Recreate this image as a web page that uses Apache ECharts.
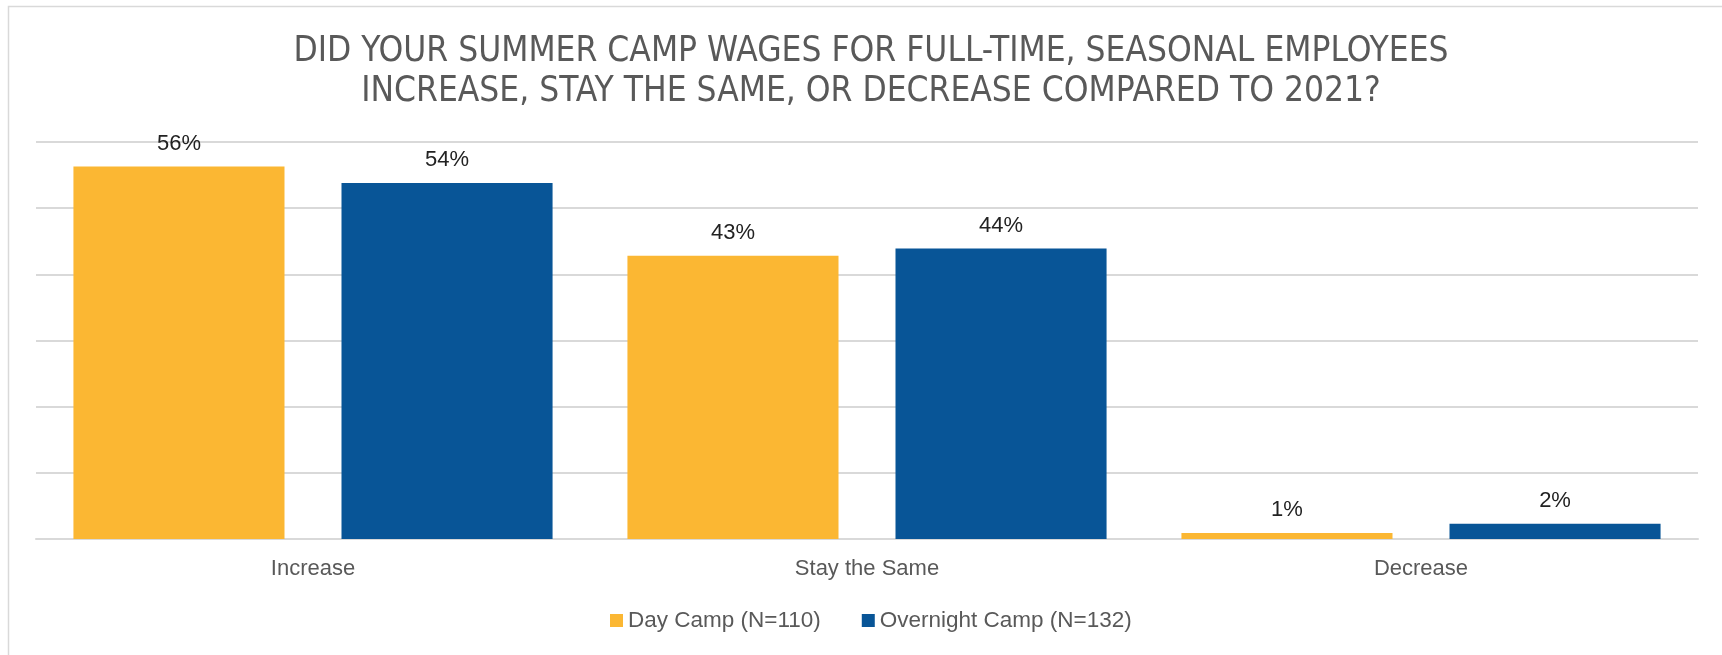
<!DOCTYPE html>
<html>
<head>
<meta charset="utf-8">
<script src="https://cdn.jsdelivr.net/npm/echarts@6/dist/echarts.min.js"></script>
<style>html,body{margin:0;padding:0;background:#fff;}#c{width:1722px;height:655px;}</style>
</head>
<body>
<div id="c"></div>
<script>
const titleText = 'DID YOUR SUMMER CAMP WAGES FOR FULL-TIME, SEASONAL EMPLOYEES\nINCREASE, STAY THE SAME, OR DECREASE COMPARED TO 2021?';
const categories = ['Increase', 'Stay the Same', 'Decrease'];
const seriesNames = ['Day Camp (N=110)', 'Overnight Camp (N=132)'];
const dayCamp = [56.3, 42.8, 0.9];
const overnightCamp = [53.8, 43.9, 2.3];
const yTicks = [0, 10, 20, 30, 40, 50, 60];

const chart = echarts.init(document.getElementById('c'), null, {renderer: 'canvas'});
const labelCfg = {
  show: true, position: 'top', distance: 12,
  color: '#222', fontSize: 22, fontFamily: 'Liberation Sans, Arial, sans-serif',
  formatter: p => Math.round(p.value) + '%'
};
chart.setOption({
  animation: false,
  backgroundColor: '#fff',
  title: {
    text: titleText,
    left: 866, top: 27, textAlign: 'center',
    textStyle: {
      fontFamily: "'Liberation Sans Narrow', 'Arial Narrow', 'DejaVu Sans Condensed', sans-serif",
      fontWeight: 'normal', fontSize: 35, lineHeight: 40, color: '#595959'
    }
  },
  graphic: [{
    type: 'rect', left: 6, top: 4, silent: true,
    shape: {x: 0, y: 0, width: 1800, height: 700},
    style: {fill: 'none', stroke: '#d9d9d9', lineWidth: 1.5}
  }],
  legend: {
    data: seriesNames, left: 605, top: 604,
    itemWidth: 13, itemHeight: 13, itemGap: 41,
    icon: 'rect',
    textStyle: {color: '#595959', fontSize: 22.5, fontFamily: 'Liberation Sans, Arial, sans-serif'}
  },
  grid: {left: 36, right: 24, top: 142, bottom: 116, containLabel: false},
  xAxis: {
    type: 'category', data: categories,
    axisLine: {lineStyle: {color: '#d9d9d9', width: 2}},
    axisTick: {show: false},
    axisLabel: {color: '#595959', fontSize: 22, margin: 19, fontFamily: 'Liberation Sans, Arial, sans-serif'}
  },
  yAxis: {
    type: 'value', min: yTicks[0], max: yTicks[yTicks.length - 1], interval: 10,
    axisLabel: {show: false}, axisLine: {show: false}, axisTick: {show: false},
    splitLine: {lineStyle: {color: '#d9d9d9', width: 2}}
  },
  series: [
    {name: seriesNames[0], type: 'bar', data: dayCamp, barWidth: '38.1%', barGap: '27%',
     itemStyle: {color: '#FBB733'}, label: labelCfg},
    {name: seriesNames[1], type: 'bar', data: overnightCamp, barWidth: '38.1%', barGap: '27%',
     itemStyle: {color: '#085597'}, label: labelCfg}
  ]
});
</script>
</body>
</html>
